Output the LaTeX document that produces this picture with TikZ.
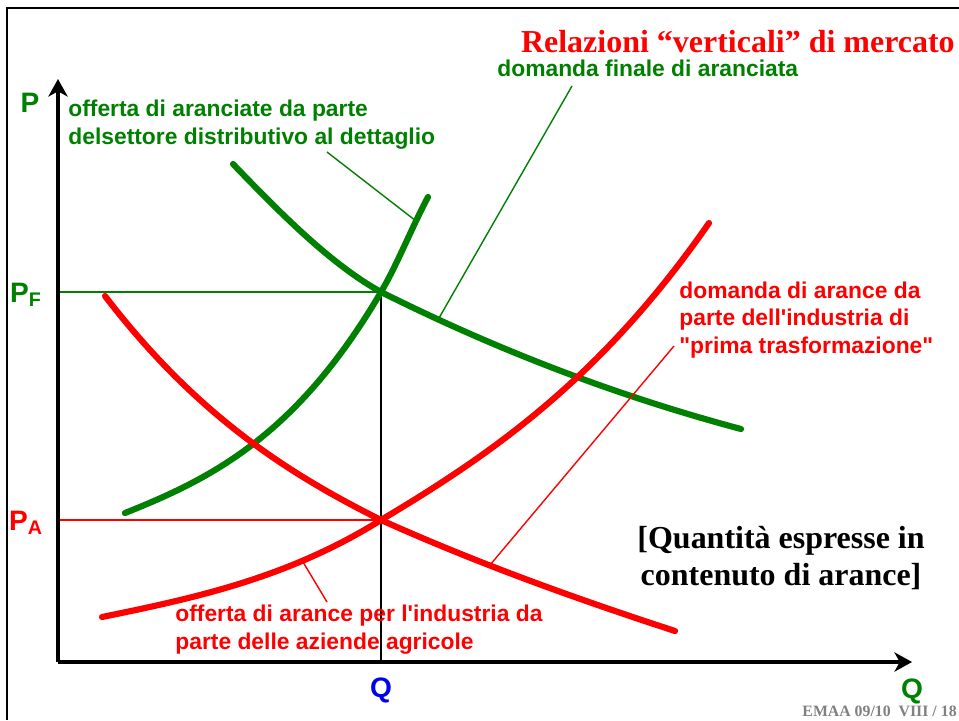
\documentclass[tikz,border=0pt]{standalone}
\usepackage{fontspec}
\setmainfont{Liberation Serif}
\setsansfont{Liberation Sans}
\usetikzlibrary{arrows.meta,positioning}
\definecolor{verde}{RGB}{0,128,0}
\definecolor{rosso}{RGB}{255,0,0}
\definecolor{blu}{RGB}{0,0,235}
\definecolor{grigio}{RGB}{128,128,128}
\tikzstyle{asse} = [line width=1.9pt, -{Stealth[length=10pt,width=11pt,inset=3pt]}]
\tikzstyle{curva} = [line width=3.5pt, line cap=round]
\tikzstyle{guida} = [line width=0.8pt]
\tikzstyle{etic} = [font=\sffamily\bfseries\fontsize{13}{15.8}\selectfont,
    align=left, inner sep=0pt]
\tikzstyle{asselab} = [font=\sffamily\bfseries\fontsize{16}{18}\selectfont, inner sep=0pt]
\tikzstyle{nota} = [font=\rmfamily\bfseries\fontsize{18.2}{21}\selectfont, inner sep=0pt]

\begin{document}
\begin{tikzpicture}[x=0.02cm,y=-0.02cm]
  \useasboundingbox (0,0) rectangle (959,720);

  % cornice
  \draw[line width=1.2pt] (7,720) -- (7,8) -- (959,8);

  % punti notevoli
  \coordinate (O)  at (58,662);
  \coordinate (Ptop) at (58,79);
  \coordinate (Qend) at (912,662);
  \coordinate (EF) at (381,292);
  \coordinate (EA) at (381,520);
  \coordinate (EFy) at (58,292);
  \coordinate (EAy) at (58,520);
  \coordinate (EQ) at (381,662);
  \coordinate (fOff) at (416,221);
  \coordinate (fDom) at (439,318);
  \coordinate (fInd) at (490,565);
  \coordinate (fAgr) at (303,562);

  % linee di riferimento
  \draw[guida, verde] (EFy) -- (EF);
  \draw[guida, rosso] (EAy) -- (EA);
  \draw[guida] (EF) -- (EQ);

  % curve
  \draw[curva, verde] (233,164) .. controls (282,215) and (332,265) .. (EF)
    .. controls (501,352) and (621,397) .. (741,429);
  \draw[curva, verde] (125,513) .. controls (210,479) and (296,437) .. (EF)
    .. controls (397,265) and (412,227) .. (428,197);
  \draw[curva, rosso] (105,296) .. controls (197,416) and (289,474) .. (EA)
    .. controls (479,564) and (577,599) .. (675,631);
  \draw[curva, rosso] (102,617) .. controls (195,598) and (288,578) .. (EA)
    .. controls (490,455) and (600,380) .. (709,223);

  % assi
  \draw[asse] (O) -- (Ptop);
  \draw[asse] (O) -- (Qend);

  \node[asselab, verde] (P)  at (30,103) {P};
  \node[asselab, verde] (PF) at (26,295) {P\textsubscript{F}};
  \node[asselab, rosso] (PA) at (26,523) {P\textsubscript{A}};
  \node[asselab, blu]   (Q)  at (381,690) {Q};
  \node[asselab, verde] (Q2) at (912,691) {Q};

  % titolo ed etichette
  \node[nota, rosso, anchor=east] (titolo) at (955,42)
    {Relazioni “verticali” di mercato};
  \node[etic, verde, anchor=west] (finale) at (497,68) {domanda finale di aranciata};
  \node[etic, verde, anchor=west] (dettaglio) at (68,125)
    {offerta di aranciate da parte\\delsettore distributivo al dettaglio};
  \node[etic, rosso, anchor=west] (industria) at (679,320)
    {domanda di arance da\\parte dell\textquotesingle industria di\\\textquotedbl prima trasformazione\textquotedbl};
  \node[etic, rosso, anchor=west] (agricole) at (175,630)
    {offerta di arance per l\textquotesingle industria da\\parte delle aziende agricole};
  \node[nota, align=center, anchor=east] (quantita) at (925,558)
    {[Quantità espresse in\\contenuto di arance]};
  \node[font=\rmfamily\bfseries\fontsize{9}{10}\selectfont, grigio, inner sep=0pt,
    anchor=east] (pie) at (957,711) {EMAA 09/10\ \ VIII / 18};

  % richiami
  \coordinate (cDet) at (327,152);
  \coordinate (cFin) at (572,86);
  \coordinate (cInd) at (674,346);
  \coordinate (cAgr) at (327,602);
  \draw[guida, verde] (cDet) -- (fOff);
  \draw[guida, verde] (cFin) -- (fDom);
  \draw[guida, rosso] (cInd) -- (fInd);
  \draw[guida, rosso] (cAgr) -- (fAgr);
\end{tikzpicture}
\end{document}
